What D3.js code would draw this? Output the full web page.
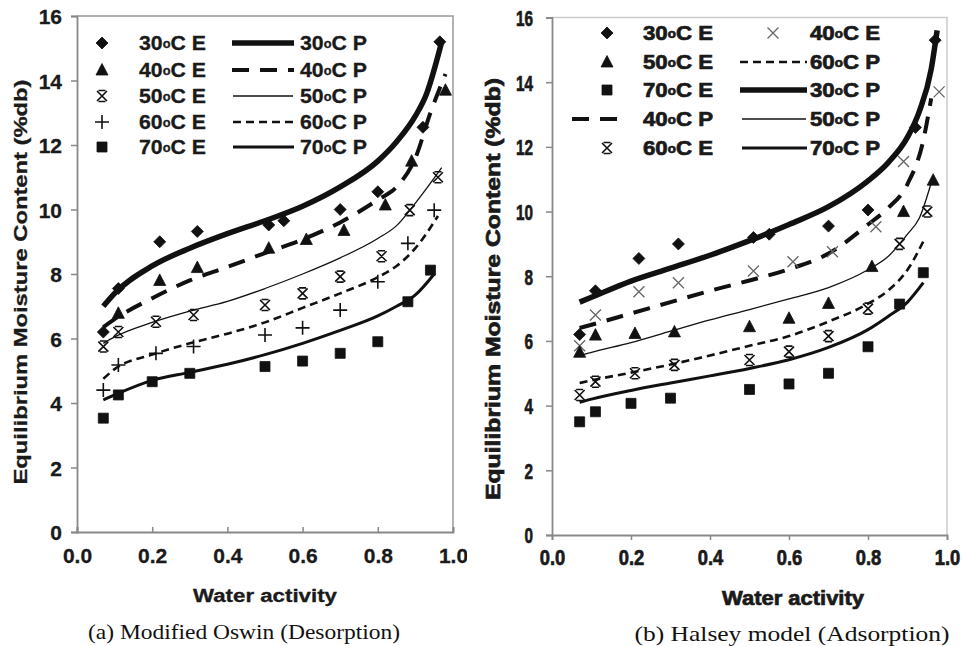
<!DOCTYPE html>
<html>
<head>
<meta charset="utf-8">
<script src="https://cdn.jsdelivr.net/npm/d3@7"></script>
<style>
  body { margin: 0; background: #fff; }
</style>
</head>
<body>
<svg id="chart" width="964" height="646"></svg>
<script>
// Tick values shared by both panels
const xTickValues = [0, 0.2, 0.4, 0.6, 0.8, 1.0];
const yTickValues = [0, 2, 4, 6, 8, 10, 12, 14, 16];
const temps = ["30", "40", "50", "60", "70"];

// (a) Modified Oswin, desorption: experimental points [aw, EMC]
const oswinExp30 = [[0.07,6.2],[0.11,7.55],[0.22,9.0],[0.32,9.32],[0.51,9.52],[0.55,9.65],[0.70,10.0],[0.80,10.55],[0.92,12.55],[0.965,15.2]];
const oswinExp40 = [[0.11,6.78],[0.22,7.8],[0.32,8.2],[0.51,8.8],[0.61,9.07],[0.71,9.35],[0.82,10.14],[0.89,11.5],[0.98,13.7]];
const oswinExp50 = [[0.07,5.75],[0.11,6.2],[0.21,6.52],[0.31,6.73],[0.50,7.04],[0.60,7.4],[0.70,7.92],[0.81,8.55],[0.885,9.98],[0.96,11.0]];
const oswinExp60 = [[0.07,4.4],[0.11,5.18],[0.21,5.54],[0.31,5.75],[0.50,6.11],[0.60,6.33],[0.70,6.88],[0.80,7.76],[0.88,8.95],[0.95,9.98]];
const oswinExp70 = [[0.07,3.53],[0.11,4.25],[0.20,4.66],[0.30,4.92],[0.50,5.13],[0.60,5.3],[0.70,5.54],[0.80,5.9],[0.88,7.14],[0.94,8.12]];
// (a) model curves
const oswinFit30 = [[0.07,7.0],[0.1,7.4],[0.2,8.25],[0.3,8.8],[0.4,9.25],[0.5,9.65],[0.6,10.1],[0.7,10.7],[0.8,11.5],[0.85,12.1],[0.9,12.9],[0.93,13.6],[0.97,15.2]];
const oswinFit40 = [[0.07,6.35],[0.1,6.6],[0.2,7.25],[0.3,7.8],[0.4,8.22],[0.5,8.65],[0.6,9.07],[0.7,9.6],[0.8,10.3],[0.85,10.7],[0.9,11.6],[0.94,13.0],[0.98,14.2]];
const oswinFit50 = [[0.07,5.85],[0.1,6.05],[0.2,6.5],[0.3,6.85],[0.4,7.15],[0.5,7.55],[0.6,8.0],[0.7,8.5],[0.8,9.1],[0.85,9.5],[0.9,10.2],[0.97,11.3]];
const oswinFit60 = [[0.07,4.75],[0.1,5.05],[0.2,5.5],[0.3,5.85],[0.4,6.15],[0.5,6.5],[0.6,6.95],[0.7,7.4],[0.8,7.9],[0.85,8.25],[0.9,8.8],[0.96,9.8]];
const oswinFit70 = [[0.07,4.1],[0.1,4.25],[0.2,4.7],[0.3,4.95],[0.4,5.2],[0.5,5.5],[0.6,5.85],[0.7,6.25],[0.8,6.7],[0.85,7.0],[0.9,7.35],[0.95,8.0]];

// (b) Halsey, adsorption: experimental points
const halseyExp30 = [[0.07,6.2],[0.11,7.55],[0.22,8.55],[0.32,9.0],[0.51,9.2],[0.55,9.3],[0.70,9.55],[0.80,10.05],[0.92,12.6],[0.97,15.3]];
const halseyExp40 = [[0.07,5.85],[0.11,6.8],[0.22,7.52],[0.32,7.8],[0.51,8.16],[0.61,8.45],[0.71,8.76],[0.82,9.53],[0.89,11.55],[0.98,13.7]];
const halseyExp50 = [[0.07,5.65],[0.11,6.18],[0.21,6.23],[0.31,6.28],[0.50,6.44],[0.60,6.7],[0.70,7.16],[0.81,8.3],[0.89,10.0],[0.965,10.97]];
const halseyExp60 = [[0.07,4.33],[0.11,4.74],[0.21,5.0],[0.31,5.26],[0.50,5.41],[0.60,5.67],[0.70,6.15],[0.80,7.0],[0.88,9.0],[0.95,10.0]];
const halseyExp70 = [[0.07,3.5],[0.11,3.81],[0.20,4.07],[0.30,4.23],[0.50,4.5],[0.60,4.67],[0.70,5.0],[0.80,5.82],[0.88,7.14],[0.94,8.11]];
// (b) model curves
const halseyFit30 = [[0.07,7.2],[0.1,7.35],[0.2,7.85],[0.3,8.25],[0.4,8.65],[0.5,9.1],[0.6,9.6],[0.7,10.15],[0.8,10.95],[0.85,11.5],[0.9,12.3],[0.93,13.1],[0.96,14.4],[0.975,15.6]];
const halseyFit40 = [[0.07,6.4],[0.1,6.5],[0.2,6.85],[0.3,7.2],[0.4,7.55],[0.5,7.87],[0.6,8.22],[0.7,8.7],[0.8,9.6],[0.85,10.1],[0.9,10.85],[0.94,12.2],[0.96,13.5]];
const halseyFit50 = [[0.07,5.55],[0.1,5.65],[0.2,5.95],[0.3,6.3],[0.4,6.65],[0.5,6.97],[0.6,7.3],[0.7,7.65],[0.8,8.2],[0.85,8.6],[0.9,9.3],[0.93,9.8],[0.965,11.1]];
const halseyFit60 = [[0.07,4.7],[0.1,4.78],[0.2,5.02],[0.3,5.27],[0.4,5.55],[0.5,5.85],[0.6,6.15],[0.7,6.6],[0.8,7.15],[0.85,7.55],[0.9,8.2],[0.945,9.2]];
const halseyFit70 = [[0.07,4.1],[0.1,4.2],[0.2,4.47],[0.3,4.7],[0.4,4.92],[0.5,5.15],[0.6,5.42],[0.7,5.8],[0.8,6.35],[0.85,6.75],[0.9,7.2],[0.94,7.8]];

const yTitle = "Equilibrium Moisture Content (%db)";
const xTitle = "Water activity";

// marker glyphs (centered at 0,0)
const SHAPES = {
  diamond:  { d: "M0,-6L6,0L0,6L-6,0Z", fill: true },
  triangle: { d: "M0,-6.5L6,5L-6,5Z", fill: true },
  square:   { d: "M-5,-5H5V5H-5Z", fill: true },
  plus:     { d: "M-7,0H7M0,-7V7", fill: false, w: 1.6 },
  cross:    { d: "M-5.5,-5.5L5.5,5.5M5.5,-5.5L-5.5,5.5", fill: false, w: 1.3, color: "#666" },
  star:     { d: "M-5,-5L5,5M5,-5L-5,5M-3.5,-5.5H3.5M-3.5,5.5H3.5", fill: false, w: 1.6 }
};

// fitted-line looks per temperature
const LINES = {
  "30": { w: 5.5, dash: null },
  "40": { w: 4, dash: "17,11" },
  "50": { w: 1.3, dash: null },
  "60": { w: 2.6, dash: "8,5" },
  "70": { w: 3, dash: null }
};

const svg = d3.select("#chart");

function drawPanel(cfg) {
  const g = svg.append("g");
  if (cfg.clip) {
    svg.append("clipPath").attr("id", cfg.clip.id)
      .append("rect").attr("x", 0).attr("y", 0).attr("width", cfg.clip.w).attr("height", 646);
    g.attr("clip-path", `url(#${cfg.clip.id})`);
  }

  const x = d3.scaleLinear().domain([0, 1]).range([cfg.left, cfg.right]);
  const y = d3.scaleLinear().domain([0, 16]).range([cfg.bottom, cfg.top]);

  // frame (top/right)
  g.append("path")
    .attr("d", `M${cfg.left},${cfg.top}H${cfg.right}V${cfg.bottom}`)
    .attr("fill", "none").attr("stroke", cfg.frameColor).attr("stroke-width", 1.5);

  const yAxis = g.append("g").attr("transform", `translate(${cfg.left},0)`)
    .call(d3.axisLeft(y).tickValues(yTickValues).tickSize(6).tickFormat(d3.format("d")));
  const xAxis = g.append("g").attr("transform", `translate(0,${cfg.bottom})`)
    .call(d3.axisBottom(x).tickValues(xTickValues).tickSize(cfg.xTick).tickFormat(d3.format(".1f")));

  [yAxis, xAxis].forEach(a => {
    a.attr("font-size", null).attr("font-family", null);
    a.select(".domain").attr("stroke", "#888").attr("stroke-width", 1.8);
    a.selectAll(".tick line").attr("stroke", "#888").attr("stroke-width", 1.5);
    a.selectAll("text")
      .attr("fill", "#1a1a1a")
      .attr("font-family", cfg.font)
      .attr("font-weight", "bold")
      .style("font-size", cfg.tickFont + "px")
      .attr("stroke", "#1a1a1a")
      .attr("stroke-width", cfg.textStroke);
  });
  yAxis.selectAll("text").attr("x", -cfg.yLabelGap).attr("dy", "0.36em");
  xAxis.selectAll("text").attr("y", cfg.xLabelGap).attr("dy", null);
  if (cfg.tickCharW) {
    // squeeze tick labels to the narrow face of panel (b)
    [yAxis, xAxis].forEach(a => a.selectAll("text")
      .attr("textLength", function () { return this.textContent.length * cfg.tickCharW; })
      .attr("lengthAdjust", "spacingAndGlyphs"));
  }

  // fitted curves
  const line = d3.line().x(d => x(d[0])).y(d => y(d[1])).curve(d3.curveMonotoneX);
  temps.forEach((t, i) => {
    const st = LINES[t];
    g.append("path")
      .datum(cfg.fits[i])
      .attr("d", line)
      .attr("fill", "none")
      .attr("stroke", "#111")
      .attr("stroke-width", st.w)
      .attr("stroke-dasharray", st.dash)
      .attr("stroke-linejoin", "round");
  });

  // experimental markers
  temps.forEach((t, i) => {
    const sh = SHAPES[cfg.shapes[i]];
    g.append("g").selectAll("path")
      .data(cfg.exps[i])
      .join("path")
      .attr("transform", d => `translate(${x(d[0])},${y(d[1])})`)
      .attr("d", sh.d)
      .attr("fill", sh.fill ? "#111" : "none")
      .attr("stroke", sh.color || "#111")
      .attr("stroke-width", sh.w || 0.8);
  });

  // axis titles
  g.append("text")
    .attr("transform", `translate(${cfg.yTitleX},${cfg.yTitleY}) rotate(-90)`)
    .attr("text-anchor", "middle")
    .attr("font-family", cfg.font).attr("font-weight", "bold")
    .attr("font-size", cfg.titleFont).attr("fill", "#1a1a1a")
    .attr("stroke", "#1a1a1a").attr("stroke-width", cfg.textStroke)
    .attr("textLength", cfg.yTitleLen).attr("lengthAdjust", "spacingAndGlyphs")
    .text(yTitle);
  g.append("text")
    .attr("x", cfg.xTitleX).attr("y", cfg.xTitleY)
    .attr("text-anchor", "middle")
    .attr("font-family", cfg.font).attr("font-weight", "bold")
    .attr("font-size", cfg.titleFont).attr("fill", "#1a1a1a")
    .attr("stroke", "#1a1a1a").attr("stroke-width", cfg.textStroke)
    .attr("textLength", cfg.xTitleLen).attr("lengthAdjust", "spacingAndGlyphs")
    .text(xTitle);

  // caption
  svg.append("text")
    .attr("x", cfg.capX).attr("y", cfg.capY)
    .attr("text-anchor", "middle")
    .attr("font-family", "'Liberation Serif', 'Times New Roman', serif")
    .attr("font-size", 22).attr("fill", "#111")
    .attr("textLength", cfg.capLen).attr("lengthAdjust", "spacingAndGlyphs")
    .text(cfg.caption);

  // legend
  const lg = g.append("g");
  cfg.legend.forEach(item => {
    const yy = item.y;
    if (item.shape) {
      const sh = SHAPES[item.shape];
      lg.append("path")
        .attr("transform", `translate(${item.mx},${yy})`)
        .attr("d", sh.d)
        .attr("fill", sh.fill ? "#111" : "none")
        .attr("stroke", sh.color || "#111")
        .attr("stroke-width", sh.w || 0.8);
    } else {
      const st = LINES[item.line];
      lg.append("line")
        .attr("x1", item.lx1).attr("x2", item.lx2).attr("y1", yy).attr("y2", yy)
        .attr("stroke", "#111").attr("stroke-width", st.w)
        .attr("stroke-dasharray", st.dash);
    }
    const tx = lg.append("text")
      .attr("x", item.tx).attr("y", yy + 7)
      .attr("font-family", cfg.font).attr("font-weight", "bold")
      .attr("font-size", cfg.legendFont).attr("fill", "#1a1a1a")
      .attr("stroke", "#1a1a1a").attr("stroke-width", cfg.textStroke)
      .attr("textLength", cfg.legendLen).attr("lengthAdjust", "spacingAndGlyphs");
    tx.append("tspan").text(item.t);
    tx.append("tspan").attr("font-size", "0.6em").attr("dy", -2).text("o");
    tx.append("tspan").attr("dy", 2).text("C " + item.k);
  });
}

const fontA = "'Liberation Sans', Arial, sans-serif";

drawPanel({
  left: 77, right: 453, top: 16, bottom: 532,
  clip: { id: "clipA", w: 467 },
  frameColor: "#999", xTick: -5, textStroke: 0.3,
  font: fontA, tickFont: 21, titleFont: 18, legendFont: 20, legendLen: 67,
  yLabelGap: 15, xLabelGap: 31, tickCharW: 0,
  yTitleX: 27, yTitleY: 282, yTitleLen: 405,
  xTitleX: 265, xTitleY: 602, xTitleLen: 144,
  capX: 244, capY: 639, capLen: 312, caption: "(a) Modified Oswin (Desorption)",
  exps: [oswinExp30, oswinExp40, oswinExp50, oswinExp60, oswinExp70],
  fits: [oswinFit30, oswinFit40, oswinFit50, oswinFit60, oswinFit70],
  shapes: ["diamond", "triangle", "star", "plus", "square"],
  legend: [
    { shape: "diamond", mx: 102, tx: 139, y: 43, t: "30", k: "E" },
    { shape: "triangle", mx: 102, tx: 139, y: 70, t: "40", k: "E" },
    { shape: "star", mx: 102, tx: 139, y: 96, t: "50", k: "E" },
    { shape: "plus", mx: 102, tx: 139, y: 122, t: "60", k: "E" },
    { shape: "square", mx: 102, tx: 139, y: 147, t: "70", k: "E" },
    { line: "30", lx1: 232, lx2: 294, tx: 300, y: 43, t: "30", k: "P" },
    { line: "40", lx1: 232, lx2: 294, tx: 300, y: 70, t: "40", k: "P" },
    { line: "50", lx1: 233, lx2: 293, tx: 300, y: 96, t: "50", k: "P" },
    { line: "60", lx1: 233, lx2: 294, tx: 300, y: 122, t: "60", k: "P" },
    { line: "70", lx1: 233, lx2: 294, tx: 300, y: 147, t: "70", k: "P" }
  ]
});

drawPanel({
  left: 552, right: 947, top: 17.5, bottom: 535,
  clip: null,
  frameColor: "#ccc", xTick: 5, textStroke: 0.7,
  font: fontA, tickFont: 22, titleFont: 20, legendFont: 21, legendLen: 70,
  yLabelGap: 19, xLabelGap: 30, tickCharW: 8.5,
  yTitleX: 500, yTitleY: 289, yTitleLen: 422,
  xTitleX: 793, xTitleY: 605, xTitleLen: 142,
  capX: 792, capY: 641, capLen: 315, caption: "(b) Halsey model (Adsorption)",
  exps: [halseyExp30, halseyExp40, halseyExp50, halseyExp60, halseyExp70],
  fits: [halseyFit30, halseyFit40, halseyFit50, halseyFit60, halseyFit70],
  shapes: ["diamond", "cross", "triangle", "star", "square"],
  legend: [
    { shape: "diamond", mx: 607, tx: 643, y: 33, t: "30", k: "E" },
    { shape: "triangle", mx: 607, tx: 643, y: 62, t: "50", k: "E" },
    { shape: "square", mx: 607, tx: 643, y: 90, t: "70", k: "E" },
    { line: "40", lx1: 572, lx2: 624, tx: 643, y: 119, t: "40", k: "P" },
    { shape: "star", mx: 607, tx: 643, y: 148, t: "60", k: "E" },
    { shape: "cross", mx: 773, tx: 810, y: 33, t: "40", k: "E" },
    { line: "60", lx1: 740, lx2: 807, tx: 810, y: 62, t: "60", k: "P" },
    { line: "30", lx1: 740, lx2: 807, tx: 810, y: 90, t: "30", k: "P" },
    { line: "50", lx1: 742, lx2: 806, tx: 810, y: 119, t: "50", k: "P" },
    { line: "70", lx1: 742, lx2: 807, tx: 810, y: 148, t: "70", k: "P" }
  ]
});
</script>
</body>
</html>
